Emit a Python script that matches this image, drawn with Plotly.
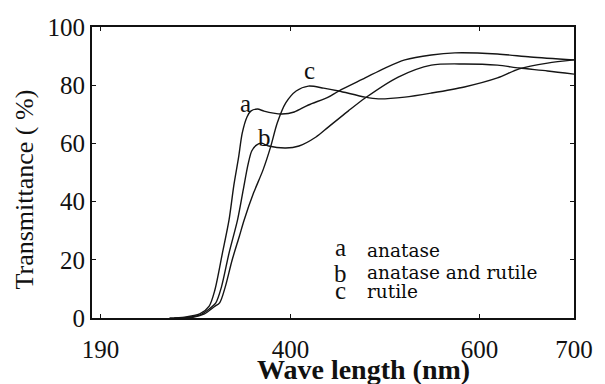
import plotly.graph_objects as go

# Wavelength (nm) and transmittance (%)
a_x = [272, 288, 304, 314, 320, 328, 335, 340, 345, 349, 354, 358, 365, 372, 382, 391, 404, 419, 440, 451, 479, 500, 521, 549, 574, 619, 654, 700]
a_y = [0.0, 0.3, 1.4, 4.1, 9.6, 22.3, 33.7, 45.4, 55.0, 63.6, 69.1, 71.1, 71.8, 71.1, 70.4, 70.1, 70.8, 73.2, 75.9, 78.0, 82.5, 85.9, 88.7, 90.4, 91.1, 90.7, 89.7, 88.7]

b_x = [277, 293, 304, 314, 321, 327, 335, 344, 350, 355, 359, 364, 369, 377, 395, 409, 427, 440, 461, 479, 514, 549, 584, 619, 642, 672, 700]
b_y = [0.0, 0.3, 1.0, 3.1, 5.2, 10.7, 22.3, 33.7, 44.0, 52.6, 57.4, 59.4, 60.1, 59.1, 58.4, 59.1, 62.2, 65.6, 71.1, 75.6, 82.8, 86.9, 87.3, 86.9, 85.9, 84.9, 83.8]

c_x = [283, 298, 309, 319, 325, 331, 338, 346, 351, 361, 371, 379, 386, 395, 406, 419, 435, 451, 479, 493, 521, 549, 584, 619, 642, 672, 700]
c_y = [0.0, 0.3, 1.4, 3.8, 5.2, 10.7, 19.6, 28.2, 33.7, 43.0, 50.9, 58.8, 67.0, 73.9, 78.0, 79.7, 79.0, 78.0, 75.9, 75.3, 75.9, 77.3, 79.4, 82.5, 85.6, 87.6, 88.7]

series = [("a", a_x, a_y), ("b", b_x, b_y), ("c", c_x, c_y)]

x_tick_vals = [199, 400, 600, 700]
x_tick_text = ["190", "400", "600", "700"]
y_tick_vals = [0, 20, 40, 60, 80, 100]

# curve labels (letter, wavelength, transmittance)
curve_labels = [("a", 352, 73.6), ("b", 372, 62.0), ("c", 420, 85.0)]
legend_letters = ["a", "b", "c"]
legend_names = ["anatase", "anatase and rutile", "rutile"]

SERIF = "Liberation Serif"

fig = go.Figure()
for name, xs, ys in series:
    fig.add_trace(go.Scatter(
        x=xs, y=ys, mode="lines", name=name,
        line=dict(color="#151515", width=1.4, shape="spline", smoothing=0.8),
        showlegend=False, hoverinfo="skip"))

for txt, xv, yv in curve_labels:
    fig.add_annotation(x=xv, y=yv, xref="x", yref="y", text=txt, showarrow=False,
                       font=dict(family=SERIF, size=25, color="#111"),
                       xanchor="center", yanchor="middle")

leg_y = [0.241, 0.152, 0.094]
txt_y = [0.232, 0.158, 0.090]
for i in range(3):
    fig.add_annotation(x=0.516, y=leg_y[i], xref="paper", yref="paper",
                       text=legend_letters[i], showarrow=False,
                       font=dict(family=SERIF, size=25, color="#111"),
                       xanchor="center", yanchor="middle")
    fig.add_annotation(x=0.567, y=txt_y[i], xref="paper", yref="paper",
                       text=legend_names[i], showarrow=False,
                       font=dict(family="DejaVu Serif", size=18.5, color="#0a0a0a"),
                       xanchor="left", yanchor="middle")

fig.add_annotation(x=-0.140, y=0.44, xref="paper", yref="paper",
                   text="Transmittance ( %)", textangle=-90, showarrow=False,
                   font=dict(family=SERIF, size=26, color="#111"),
                   xanchor="center", yanchor="middle")
fig.add_annotation(x=0.563, y=-0.178, xref="paper", yref="paper",
                   text="<b>Wave length (nm)</b>", showarrow=False,
                   font=dict(family=SERIF, size=28, color="#111"),
                   xanchor="center", yanchor="middle")

axis_common = dict(showline=True, linecolor="#111", linewidth=2, mirror="ticks",
                   ticks="inside", ticklen=4, tickcolor="#111", tickwidth=1,
                   showgrid=False, zeroline=False,
                   tickfont=dict(family=SERIF, size=25, color="#111"))

fig.update_layout(
    width=605, height=384,
    margin=dict(l=92, r=28, t=27, b=66),
    paper_bgcolor="white", plot_bgcolor="white",
    xaxis=dict(range=[190, 700], tickvals=x_tick_vals, ticktext=x_tick_text,
               ticklabelstandoff=8, **axis_common),
    yaxis=dict(range=[0, 100], tickvals=y_tick_vals, **axis_common),
)

fig.write_html("out.html")
